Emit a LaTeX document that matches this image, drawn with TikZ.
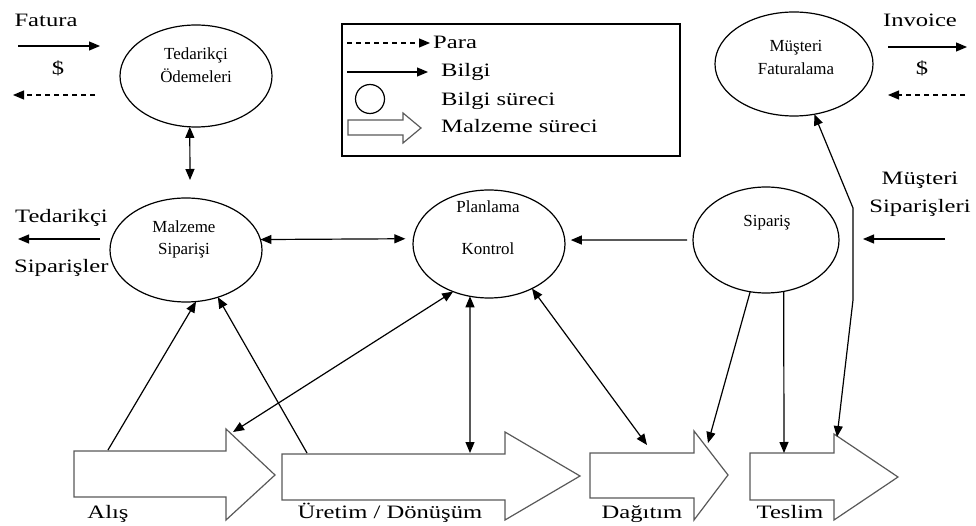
\documentclass[tikz,border=0pt]{standalone}
\usepackage{fontspec}
\setmainfont{Liberation Serif}
\newfontfamily\widefont[FakeStretch=1.3]{Liberation Serif}
\usetikzlibrary{arrows.meta,shapes.geometric}

\tikzset{
  proc/.style 2 args={ellipse, draw, line width=1.2bp, inner sep=0pt, outer sep=0pt,
    minimum width=#1, minimum height=#2},
  small/.style={font=\fontsize{17}{20}\selectfont, inner sep=0pt, anchor=base},
  big/.style={font=\widefont\fontsize{19}{22}\selectfont, inner sep=0pt, anchor=base},
  bigw/.style={big, anchor=base west},
  mat/.style={draw=black!65, line width=1.2bp, fill=white, line join=miter},
  tip/.tip={Triangle[length=11bp,width=9bp]},
  info/.style={line width=1.2bp, -tip},
  both/.style={line width=1.2bp, tip-tip},
  money/.style={line width=1.2bp, -tip, dash pattern=on 5bp off 4bp},
}

\begin{document}
\begin{tikzpicture}[x=1bp, y=-1bp]
\useasboundingbox (0,0) rectangle (976,526);

% material flow (block arrows)
\draw[mat] (74,451) -- (226,451) -- (226,429) -- (275,475) -- (226,520) -- (226,497) -- (74,497) -- cycle;
\draw[mat] (282,454) -- (505,454) -- (505,432) -- (580,476) -- (505,520) -- (505,500) -- (282,500) -- cycle;
\draw[mat] (590,453) -- (694,453) -- (694,431) -- (728,475) -- (694,520) -- (694,498) -- (590,498) -- cycle;
\draw[mat] (750,453) -- (834,453) -- (834,434) -- (898,477) -- (834,520) -- (834,500) -- (750,500) -- cycle;

% attachment points on the block arrows
\coordinate (alisTop)  at (108,450);
\coordinate (alisHead) at (233,432);
\coordinate (urLeft)   at (307,453);
\coordinate (urTop)    at (470,453);
\coordinate (dagMid)   at (647,445);
\coordinate (dagTop)   at (708,443);
\coordinate (tesTop)   at (784,453);
\coordinate (tesHead)  at (837,437);

% information processes
\node[proc={152bp}{102bp}] (ted) at (196,76)  {};
\node[proc={158bp}{104bp}] (mf)  at (794,64)  {};
\node[proc={152bp}{104bp}] (ms)  at (186,250) {};
\node[proc={152bp}{108bp}] (pk)  at (489,244) {};
\node[proc={146bp}{106bp}] (sp)  at (766,240) {};

\node[small] (tedA) at (196,60)  {Tedarikçi};
\node[small] (tedB) at (196,83)  {Ödemeleri};
\node[small] (mfA)  at (796,52)  {Müşteri};
\node[small] (mfB)  at (796,75)  {Faturalama};
\node[small] (msA)  at (184,233) {Malzeme};
\node[small] (msB)  at (184,255) {Siparişi};
\node[small] (pkA)  at (488,213) {Planlama};
\node[small] (pkB)  at (488,255) {Kontrol};
\node[small] (spA)  at (767,227) {Sipariş};

% free ends of the outer flows
\coordinate (fatA) at (18,46);   \coordinate (fatB) at (100,46);
\coordinate (payA) at (95,95);   \coordinate (payB) at (13,95);
\coordinate (invA) at (888,47);  \coordinate (invB) at (967,47);
\coordinate (recA) at (965,95);  \coordinate (recB) at (888,95);
\coordinate (supA) at (100,239); \coordinate (supB) at (18,239);
\coordinate (cusA) at (945,239); \coordinate (cusB) at (863,239);
\coordinate (msTop) at (190,180);
\coordinate (bendA) at (853,208);
\coordinate (bendB) at (853,300);

% information flows
\draw[info] (fatA) -- (fatB);
\draw[money] (payA) -- (payB);
\draw[info] (invA) -- (invB);
\draw[money] (recA) -- (recB);
\draw[info] (supA) -- (supB);
\draw[info] (cusA) -- (cusB);

\draw[both] (ted.-97) -- (msTop);
\draw[both, shorten >=8bp] (ms.8) -- (pk.176);
\draw[info, shorten <=6bp, shorten >=6bp] (sp.180) -- (pk.3);
\draw[info] (alisTop) -- (ms.-79);
\draw[info] (urLeft) -- (ms.-56);
\draw[both] (pk.-127) -- (alisHead);
\draw[both] (pk.-110) -- (urTop);
\draw[both] (pk.-46) -- (dagMid);
\draw[info] (sp.-107) -- (dagTop);
\draw[info] (sp.-71) -- (tesTop);
\draw[both] (mf.-68) -- (bendA) -- (bendB) -- (tesHead);

% outer labels
\node[big] (fatura) at (46,27)  {Fatura};
\node[big] (usdL)   at (58,75)  {\$};
\node[big] (invoice) at (920,27) {Invoice};
\node[big] (usdR)   at (922,75) {\$};
\node[bigw] (supT1) at (15,223) {Tedarikçi};
\node[bigw] (supT2) at (14,273) {Siparişler};
\node[big] (cusT1)  at (920,185) {Müşteri};
\node[big] (cusT2)  at (920,213) {Siparişleri};

\node[big] (alis)  at (108,518) {Alış};
\node[big] (uret)  at (390,518) {Üretim / Dönüşüm};
\node[big] (dag)   at (642,518) {Dağıtım};
\node[big] (tes)   at (790,518) {Teslim};

% legend
\node[draw, line width=1.2bp, anchor=north west, inner sep=0pt, outer sep=0pt,
      minimum width=338bp, minimum height=132bp] (legend) at (342,24) {};
\coordinate (lgA) at (347,43); \coordinate (lgB) at (430,43);
\coordinate (lgC) at (347,72); \coordinate (lgD) at (428,72);
\draw[money] (lgA) -- (lgB);
\draw[info] (lgC) -- (lgD);
\node[circle, draw, line width=1.2bp, minimum size=29bp, inner sep=0pt] (lgCirc) at (370,99) {};
\draw[mat] (348,120) -- (403,120) -- (403,113) -- (421,128) -- (403,143) -- (403,135) -- (348,135) -- cycle;
\node[bigw] (lgPara)  at (433,49)  {Para};
\node[bigw] (lgBilgi) at (441,77)  {Bilgi};
\node[bigw] (lgBs)    at (441,106) {Bilgi süreci};
\node[bigw] (lgMs)    at (441,133) {Malzeme süreci};
\end{tikzpicture}
\end{document}
